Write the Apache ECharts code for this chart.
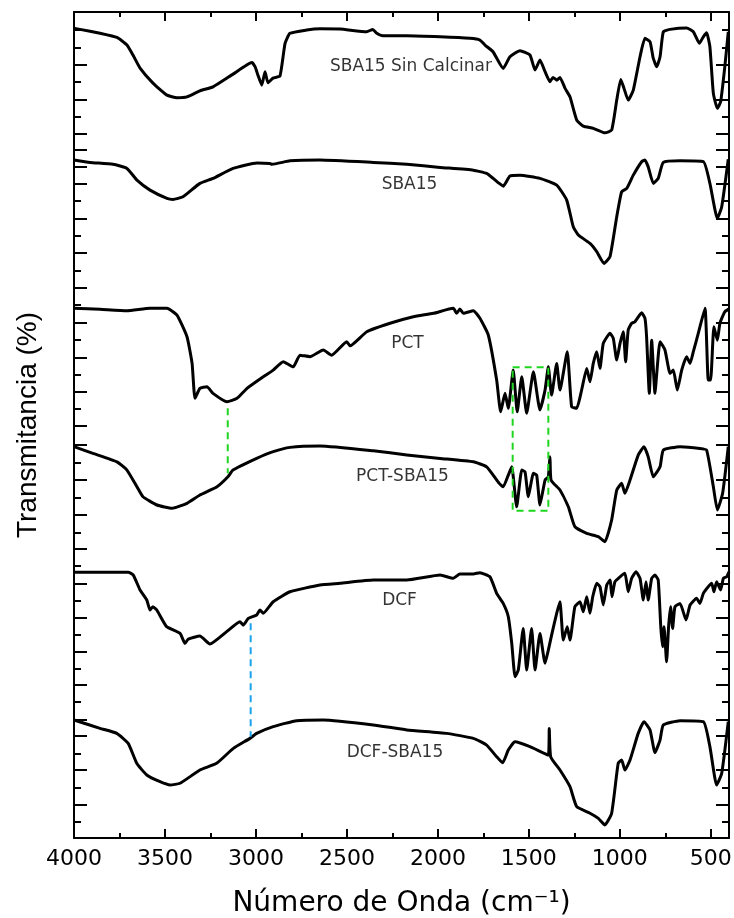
<!DOCTYPE html>
<html lang="es">
<head>
<meta charset="utf-8">
<title>Espectros FTIR</title>
<script src="https://cdn.jsdelivr.net/npm/echarts@6.0.0/dist/echarts.min.js"></script>
<style>
  html, body { margin: 0; padding: 0; background: #fff; }
  #chart { width: 734px; height: 918px; }
</style>
</head>
<body>
<div id="chart"></div>
<script>
// FTIR spectra: [wavenumber (cm-1), stacked transmittance (arbitrary units)]
const sba15SinCalcinar = [
  [4000, 47.05], [3967, 46.99], [3857, 46.76], [3764, 46.52], [3709, 46.08], [3676, 45.50],
  [3637, 44.74], [3566, 43.87], [3489, 43.17], [3434, 43.02], [3379, 43.07], [3308, 43.42],
  [3236, 43.65], [3126, 44.39], [3022, 45.07], [3005, 44.82], [2989, 44.33], [2968, 43.75],
  [2950, 44.53], [2934, 43.89], [2906, 44.16], [2868, 44.28], [2840, 46.18], [2813, 46.76],
  [2721, 46.95], [2648, 47.02], [2538, 47.01], [2391, 46.85], [2358, 46.99], [2336, 46.76],
  [2302, 46.62], [2171, 46.62], [1988, 46.56], [1824, 46.47], [1769, 46.37], [1741, 46.08],
  [1697, 45.69], [1641, 44.72], [1604, 45.40], [1549, 45.75], [1494, 45.50], [1466, 44.63],
  [1439, 45.21], [1411, 44.53], [1384, 43.95], [1367, 44.20], [1347, 44.04], [1329, 44.20],
  [1301, 43.56], [1274, 43.07], [1237, 41.72], [1201, 41.37], [1146, 41.24], [1082, 40.98],
  [1045, 41.14], [1017, 42.88], [995, 44.08], [977, 43.56], [954, 42.88], [926, 43.46],
  [889, 45.40], [862, 46.47], [834, 46.27], [816, 45.30], [797, 44.82], [779, 45.40],
  [761, 46.85], [724, 46.99], [633, 47.07], [596, 46.85], [563, 46.18], [541, 46.56],
  [523, 46.79], [505, 45.98], [486, 43.27], [464, 42.40], [446, 42.78], [423, 44.82], [404, 46.85]
];

const sba15 = [
  [4000, 39.40], [3912, 39.26], [3786, 39.15], [3709, 38.91], [3654, 38.23], [3582, 37.65],
  [3489, 37.17], [3456, 37.11], [3401, 37.26], [3308, 38.04], [3236, 38.33], [3126, 38.91],
  [2994, 39.23], [2923, 39.20], [2913, 39.15], [2813, 39.35], [2648, 39.40], [2355, 39.26],
  [2171, 39.15], [1988, 38.97], [1805, 38.81], [1732, 38.62], [1696, 38.33], [1663, 38.04],
  [1641, 37.88], [1604, 38.47], [1549, 38.52], [1439, 38.33], [1347, 37.94], [1292, 37.07],
  [1256, 35.52], [1228, 35.04], [1164, 34.55], [1127, 34.07], [1087, 33.39], [1054, 33.78],
  [1017, 36.10], [990, 37.55], [962, 37.75], [926, 38.52], [880, 39.30], [862, 39.40],
  [844, 39.00], [816, 38.04], [789, 38.33], [761, 39.26], [669, 39.35], [541, 39.30],
  [505, 38.04], [464, 36.00], [440, 36.68], [404, 39.44]
];

const pct = [
  [4000, 30.78], [3857, 30.72], [3709, 30.64], [3582, 30.78], [3489, 30.78], [3434, 30.39],
  [3379, 29.13], [3351, 27.58], [3335, 25.55], [3308, 26.13], [3269, 26.22], [3236, 25.84],
  [3159, 25.35], [3104, 25.55], [3049, 26.13], [2960, 26.80], [2905, 27.19], [2850, 27.68],
  [2795, 27.38], [2758, 28.06], [2703, 27.97], [2630, 28.36], [2584, 28.06], [2501, 28.84],
  [2483, 28.60], [2391, 29.42], [2263, 29.91], [2135, 30.29], [2025, 30.49], [1915, 30.78],
  [1897, 30.49], [1879, 30.74], [1860, 30.49], [1805, 30.64], [1769, 30.20], [1723, 29.23],
  [1677, 26.61], [1655, 24.77], [1631, 25.84], [1613, 24.97], [1586, 27.19], [1564, 24.77],
  [1539, 26.80], [1512, 24.68], [1475, 27.09], [1439, 24.87], [1411, 26.03], [1393, 27.38],
  [1375, 25.74], [1347, 27.58], [1329, 26.03], [1289, 28.26], [1265, 25.06], [1237, 24.97],
  [1210, 26.03], [1182, 27.29], [1164, 26.51], [1146, 27.58], [1127, 28.26], [1109, 27.29],
  [1091, 28.74], [1054, 29.33], [1036, 29.03], [1017, 27.77], [999, 28.74], [981, 29.42],
  [968, 27.67], [954, 29.52], [935, 29.91], [917, 30.00], [880, 30.52], [862, 30.20],
  [853, 29.13], [838, 25.84], [825, 28.93], [807, 25.84], [797, 27.00], [779, 28.84],
  [752, 28.36], [724, 27.00], [706, 27.19], [684, 26.03], [660, 27.19], [633, 27.97],
  [614, 27.58], [596, 28.26], [569, 29.32], [532, 30.78], [514, 26.61], [501, 26.61],
  [483, 29.71], [464, 28.93], [450, 29.91], [423, 30.58], [400, 30.75]
];

const pctSba15 = [
  [4000, 22.74], [3896, 22.35], [3764, 21.86], [3709, 21.38], [3654, 20.41], [3621, 19.83],
  [3544, 19.35], [3461, 19.16], [3379, 19.45], [3308, 19.93], [3214, 20.41], [3154, 20.99],
  [3126, 21.38], [2996, 22.06], [2905, 22.45], [2813, 22.70], [2648, 22.78], [2355, 22.50],
  [2171, 22.26], [1988, 22.06], [1805, 21.86], [1732, 21.57], [1663, 20.61], [1641, 20.41],
  [1613, 21.09], [1594, 21.57], [1567, 19.25], [1539, 21.38], [1521, 21.28], [1503, 19.83],
  [1475, 21.19], [1457, 21.09], [1439, 19.35], [1411, 20.80], [1393, 20.99], [1384, 22.15],
  [1378, 20.80], [1329, 20.22], [1283, 19.25], [1247, 18.09], [1182, 17.70], [1118, 17.51],
  [1082, 17.22], [1045, 18.48], [1017, 20.22], [990, 20.61], [972, 20.03], [944, 20.80],
  [899, 22.25], [867, 22.74], [844, 22.15], [816, 20.99], [779, 21.57], [761, 22.54],
  [669, 22.74], [560, 22.64], [523, 22.54], [486, 20.41], [464, 19.06], [435, 20.03], [404, 22.74]
];

const dcf = [
  [4000, 15.44], [3857, 15.44], [3702, 15.44], [3674, 15.28], [3637, 14.41], [3600, 13.83],
  [3582, 13.25], [3567, 13.44], [3545, 13.25], [3491, 12.28], [3417, 11.89], [3390, 11.31],
  [3372, 11.56], [3308, 11.74], [3253, 11.27], [3161, 11.99], [3088, 12.57], [3070, 12.37],
  [3042, 12.76], [2996, 12.96], [2978, 13.25], [2960, 13.06], [2905, 13.73], [2813, 14.31],
  [2648, 14.70], [2538, 14.80], [2355, 14.99], [2171, 14.99], [1988, 15.28], [1915, 15.09],
  [1879, 15.34], [1805, 15.34], [1769, 15.42], [1714, 15.18], [1677, 14.22], [1641, 13.63],
  [1613, 12.86], [1594, 11.31], [1576, 9.37], [1558, 9.76], [1531, 12.18], [1512, 9.76],
  [1485, 12.18], [1466, 9.76], [1439, 11.89], [1411, 10.15], [1393, 10.92], [1375, 11.79],
  [1347, 13.06], [1329, 13.73], [1311, 11.50], [1289, 12.28], [1274, 11.50], [1247, 13.44],
  [1219, 13.73], [1201, 13.15], [1182, 14.02], [1164, 13.06], [1149, 14.02], [1127, 14.80],
  [1109, 14.60], [1091, 13.54], [1072, 14.70], [1054, 14.99], [1043, 14.02], [1027, 14.89],
  [999, 15.18], [972, 15.38], [954, 14.31], [935, 15.09], [911, 15.47], [889, 15.09],
  [871, 13.83], [856, 14.89], [844, 13.83], [825, 15.09], [807, 15.28], [789, 14.99],
  [775, 12.28], [765, 11.12], [757, 12.28], [743, 10.24], [732, 12.28], [721, 13.44],
  [710, 12.18], [697, 13.44], [669, 13.63], [636, 12.67], [614, 13.54], [578, 13.93],
  [560, 13.63], [541, 14.22], [514, 14.60], [495, 14.80], [483, 14.31], [468, 14.89],
  [446, 14.41], [431, 15.09], [413, 15.18], [400, 15.47]
];

const dcfSba15 = [
  [4000, 6.86], [3857, 6.37], [3765, 6.08], [3702, 5.50], [3655, 4.34], [3600, 3.66],
  [3527, 3.27], [3472, 3.08], [3417, 3.18], [3308, 3.95], [3216, 4.34], [3124, 5.21],
  [3033, 5.79], [2996, 6.08], [2905, 6.47], [2776, 6.82], [2630, 6.86], [2355, 6.57],
  [2171, 6.28], [1952, 6.08], [1805, 5.79], [1732, 5.40], [1677, 4.72], [1644, 4.37],
  [1613, 5.11], [1576, 5.60], [1494, 5.31], [1393, 4.82], [1388, 6.37], [1380, 4.72],
  [1329, 3.95], [1274, 2.98], [1237, 1.82], [1164, 1.44], [1118, 1.14], [1082, 0.76],
  [1045, 1.44], [1009, 4.34], [990, 4.53], [972, 3.95], [944, 4.53], [899, 6.08],
  [867, 6.76], [834, 6.28], [807, 4.96], [779, 5.69], [761, 6.57], [669, 6.82],
  [541, 6.76], [505, 5.31], [468, 3.08], [440, 3.76], [404, 6.76]
];

// Guide marks between related spectra
const pctGuide = [[3155, 24.97], [3155, 21.19]];
const pctBandBox = [[1589, 27.35], [1393, 27.35], [1393, 19.01], [1589, 19.01], [1589, 27.35]];
const dcfGuide = [[3029, 12.48], [3029, 5.89]];

// Spectrum names and where they sit
const spectrumNames = ['SBA15 Sin Calcinar', 'SBA15', 'PCT', 'PCT-SBA15', 'DCF', 'DCF-SBA15'];
const nameAnchors = [[2148, 44.80], [2156, 37.98], [2167, 28.74], [2195, 20.99], [2211, 13.82], [2236, 4.97]];

// Axis ticks
const xMajorTicks = [4000, 3500, 3000, 2500, 2000, 1500, 1000, 500];
const xMinorTicks = [3750, 3250, 2750, 2250, 1750, 1250, 750];
const yMajorTicks = [48, 44.93, 42.92, 40.91, 39.98, 39.01, 38.04, 36.01, 33.99, 32.0, 29.94,
  27.93, 25.93, 23.96, 22.84, 20.80, 18.79, 16.78, 14.80, 12.82, 10.85, 8.89, 6.90, 5.93,
  3.95, 1.96, 0];
const yMinorTicks = [46.98, 45.94, 43.93, 41.91, 37.01, 35.0, 32.99, 30.97, 28.94, 26.94,
  24.97, 21.83, 19.80, 17.76, 15.80, 13.79, 11.81, 9.86, 7.89, 4.92, 2.92, 0.95];

const chart = echarts.init(document.getElementById('chart'), null, { renderer: 'canvas' });

const black = '#000';
const labelFont = 'DejaVu Sans';

function xAxisDef(position, ticks, len, main) {
  return {
    type: 'value', min: 400, max: 4000, inverse: true, position: position,
    axisLine: { show: main, onZero: false, lineStyle: { color: black, width: 2 } },
    axisTick: { show: true, inside: true, length: len, customValues: ticks,
      lineStyle: { color: black, width: 2 } },
    axisLabel: main && position === 'bottom'
      ? { show: true, customValues: ticks, margin: 10, color: black,
          fontFamily: labelFont, fontSize: 22, formatter: v => String(v) }
      : { show: false },
    splitLine: { show: false }
  };
}

function yAxisDef(position, ticks, len, main) {
  return {
    type: 'value', min: 0, max: 48, position: position,
    axisLine: { show: main, onZero: false, lineStyle: { color: black, width: 2 } },
    axisTick: { show: true, inside: true, length: len, customValues: ticks,
      lineStyle: { color: black, width: 2 } },
    axisLabel: { show: false },
    splitLine: { show: false }
  };
}

const xAxes = [
  xAxisDef('bottom', xMajorTicks, 9, true),
  xAxisDef('bottom', xMinorTicks, 5, false),
  xAxisDef('top', xMajorTicks, 9, true),
  xAxisDef('top', xMinorTicks, 5, false)
];
Object.assign(xAxes[0], {
  name: 'Número de Onda (cm⁻¹)', nameLocation: 'middle', nameGap: 52,
  nameTextStyle: { color: black, fontFamily: labelFont, fontSize: 28 }
});

const yAxes = [
  yAxisDef('left', yMajorTicks, 13, true),
  yAxisDef('left', yMinorTicks, 7, false),
  yAxisDef('right', yMajorTicks, 13, true),
  yAxisDef('right', yMinorTicks, 7, false)
];
Object.assign(yAxes[0], {
  name: 'Transmitancia (%)', nameLocation: 'middle', nameGap: 32,
  nameTextStyle: { color: black, fontFamily: 'Liberation Sans', fontSize: 28 }
});

function spectrum(name, data) {
  return {
    name: name, type: 'line', data: data, showSymbol: false, symbol: 'none',
    smooth: 0.15, lineStyle: { color: black, width: 3, join: 'round' }, z: 3
  };
}

function guide(data, color) {
  return {
    type: 'line', data: data, showSymbol: false, symbol: 'none', z: 4,
    lineStyle: { color: color, width: 2, type: [7, 5] }
  };
}

const option = {
  animation: false,
  backgroundColor: '#fff',
  grid: { left: 74, right: 5, top: 12, bottom: 80, containLabel: false, outerBoundsMode: 'none' },
  xAxis: xAxes,
  yAxis: yAxes,
  series: [
    spectrum('SBA15 Sin Calcinar', sba15SinCalcinar),
    spectrum('SBA15', sba15),
    spectrum('PCT', pct),
    spectrum('PCT-SBA15', pctSba15),
    spectrum('DCF', dcf),
    spectrum('DCF-SBA15', dcfSba15),
    guide(pctGuide, '#1ed61e'),
    guide(pctBandBox, '#1ed61e'),
    guide(dcfGuide, '#1aa3ec'),
    {
      type: 'scatter', symbolSize: 0, z: 5, silent: true,
      data: spectrumNames.map((n, i) => ({ name: n, value: nameAnchors[i] })),
      label: { show: true, position: 'inside', formatter: '{b}', color: black,
        textBorderWidth: 0, fontFamily: labelFont, fontSize: 17 }
    }
  ]
};

chart.setOption(option);
</script>
</body>
</html>
